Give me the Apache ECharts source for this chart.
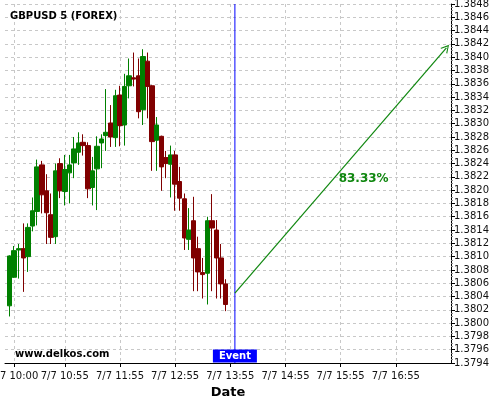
<!DOCTYPE html>
<html><head><meta charset="utf-8">
<script src="https://cdn.jsdelivr.net/npm/echarts@6/dist/echarts.min.js"></script>
<style>html,body{margin:0;padding:0;background:#fff}#c{width:500px;height:400px}</style>
</head><body><div id="c"></div>
<script>
// candle times: 09:55 .. 13:50 (5-minute bars)
const firstCandle = '09:55';
// [open, close, low, high]
const candles = [
 [1.38026,1.38101,1.38010,1.38102],
 [1.38069,1.38109,1.38068,1.38116],
 [1.38110,1.38112,1.38067,1.38119],
 [1.38112,1.38098,1.38047,1.38150],
 [1.38100,1.38144,1.38077,1.38150],
 [1.38146,1.38169,1.38138,1.38189],
 [1.38168,1.38235,1.38147,1.38246],
 [1.38238,1.38193,1.38165,1.38244],
 [1.38199,1.38166,1.38119,1.38224],
 [1.38163,1.38129,1.38119,1.38195],
 [1.38130,1.38229,1.38119,1.38240],
 [1.38240,1.38199,1.38188,1.38248],
 [1.38198,1.38231,1.38177,1.38253],
 [1.38226,1.38238,1.38180,1.38253],
 [1.38241,1.38262,1.38218,1.38280],
 [1.38257,1.38271,1.38238,1.38287],
 [1.38272,1.38267,1.38252,1.38284],
 [1.38267,1.38202,1.38188,1.38272],
 [1.38204,1.38229,1.38177,1.38250],
 [1.38232,1.38266,1.38170,1.38281],
 [1.38271,1.38277,1.38233,1.38284],
 [1.38282,1.38287,1.38259,1.38352],
 [1.38301,1.38280,1.38265,1.38328],
 [1.38279,1.38342,1.38265,1.38351],
 [1.38343,1.38297,1.38266,1.38357],
 [1.38298,1.38356,1.38267,1.38375],
 [1.38357,1.38372,1.38338,1.38398],
 [1.38369,1.38367,1.38356,1.38407],
 [1.38372,1.38318,1.38308,1.38398],
 [1.38321,1.38401,1.38298,1.38412],
 [1.38394,1.38356,1.38308,1.38407],
 [1.38357,1.38273,1.38229,1.38358],
 [1.38275,1.38298,1.38229,1.38310],
 [1.38281,1.38235,1.38199,1.38282],
 [1.38249,1.38240,1.38218,1.38259],
 [1.38239,1.38253,1.38189,1.38267],
 [1.38253,1.38209,1.38169,1.38259],
 [1.38213,1.38188,1.38169,1.38235],
 [1.38187,1.38128,1.38110,1.38195],
 [1.38126,1.38140,1.38110,1.38173],
 [1.38154,1.38098,1.38048,1.38190],
 [1.38112,1.38077,1.38048,1.38130],
 [1.38076,1.38073,1.38037,1.38098],
 [1.38075,1.38154,1.38028,1.38160],
 [1.38154,1.38143,1.38048,1.38194],
 [1.38140,1.38098,1.38037,1.38155],
 [1.38098,1.38059,1.38037,1.38119],
 [1.38059,1.38028,1.38018,1.38066]
];
const tickTimes = ['10:00','10:55','11:55','12:55','13:55','14:55','15:55','16:55'];
const eventTime = '14:00';
const arrowStart = ['14:00', 1.38045];
const arrowEnd = ['17:50', 1.38414];
const probLabel = '83.33%';
const probAt = ['16:20', 1.38217];
const yMin = 1.3794, yMax = 1.3848, yStep = 0.0002;

// x-axis domain: 09:50 .. 17:55 every 5 minutes
const categories = [];
for (let m = 9*60+50; m <= 17*60+55; m += 5) {
  const h = Math.floor(m/60), mm = m%60;
  categories.push(String(h).padStart(2,'0') + ':' + String(mm).padStart(2,'0'));
}
const startIdx = categories.indexOf(firstCandle);
const seriesData = categories.map(() => '-');
candles.forEach((c, i) => { seriesData[startIdx + i] = c; });

const FONT = 'DejaVu Sans';
const isTick = (idx, val) => tickTimes.indexOf(val) >= 0;
const lab = t => '7/7 ' + String(parseInt(t.split(':')[0], 10)) + ':' + t.split(':')[1];
const GREEN_LINE = '#0f870f';

const chart = echarts.init(document.getElementById('c'), null, {renderer: 'canvas'});
chart.setOption({
  animation: false,
  backgroundColor: '#fff',
  title: [
    {text: 'GBPUSD 5 (FOREX)', left: 10, top: 11, padding: 0,
     textStyle: {fontFamily: FONT, fontSize: 10, fontWeight: 'bold', color: '#000'}},
    {text: 'www.delkos.com', left: 15, top: 349, padding: 0,
     textStyle: {fontFamily: FONT, fontSize: 10, fontWeight: 'bold', color: '#000'}}
  ],
  grid: {left: 5, right: 49, top: 4, bottom: 37, containLabel: false, outerBoundsMode: 'none'},
  xAxis: {
    type: 'category', data: categories, boundaryGap: false,
    name: 'Date', nameLocation: 'middle', nameGap: 17,
    nameTextStyle: {fontFamily: FONT, fontSize: 13, fontWeight: 'bold', color: '#000'},
    axisLine: {show: true, lineStyle: {color: '#000', width: 1}},
    axisTick: {show: true, interval: isTick, length: 4, lineStyle: {color: '#000'}},
    axisLabel: {interval: isTick, formatter: v => lab(v), fontFamily: FONT, fontSize: 10,
      color: '#111', margin: 8, hideOverlap: false},
    splitLine: {show: true, interval: isTick, lineStyle: {color: '#c8c8c8', type: [3, 3], width: 1}}
  },
  yAxis: {
    type: 'value', position: 'right', min: yMin, max: yMax, interval: yStep, scale: true,
    axisLine: {show: true, lineStyle: {color: '#000', width: 1}},
    axisTick: {show: true, length: 4, lineStyle: {color: '#000'}},
    minorTick: {show: true, splitNumber: 4, length: 2, lineStyle: {color: '#888'}},
    axisLabel: {formatter: v => v.toFixed(4), fontFamily: FONT, fontSize: 10, color: '#111', margin: 3},
    splitLine: {show: true, lineStyle: {color: '#c8c8c8', type: [3, 3], width: 1}}
  },
  series: [{
    type: 'candlestick',
    data: seriesData,
    barWidth: 5,
    itemStyle: {color: '#008000', color0: '#800000', borderColor: '#008000', borderColor0: '#800000', borderWidth: 1},
    markLine: {
      silent: true, animation: false, symbol: 'none',
      label: {show: false},
      lineStyle: {color: GREEN_LINE, width: 1.2, type: 'solid'},
      data: [
        [{coord: arrowStart, symbol: 'none'},
         {coord: arrowEnd, symbol: 'path://M0,10 L5,0 L10,10 L8.6,10 L5,2.6 L1.4,10 Z', symbolSize: [9, 8]}]
      ]
    },
    markPoint: {
      silent: true, animation: false,
      data: [
        {coord: [eventTime, yMin], symbol: 'rect', symbolSize: [44, 13], symbolOffset: [0, -7],
         itemStyle: {color: '#0000ff'},
         label: {show: true, position: 'inside', formatter: 'Event', color: '#fff', fontFamily: FONT, fontSize: 10, fontWeight: 'bold'}},
        {coord: probAt, symbol: 'rect', symbolSize: 1, itemStyle: {color: 'rgba(0,0,0,0)'},
         label: {show: true, position: 'inside', formatter: probLabel, color: GREEN_LINE, fontFamily: FONT, fontSize: 12, fontWeight: 'bold'}}
      ]
    }
  }, {
    type: 'line',
    name: 'event',
    data: [[eventTime, yMin], [eventTime, yMax]],
    showSymbol: false, symbol: 'none', silent: true, z: 1,
    color: '#0000ff',
    lineStyle: {color: '#0000ff', width: 1, type: 'solid'}
  }]
});
</script></body></html>
